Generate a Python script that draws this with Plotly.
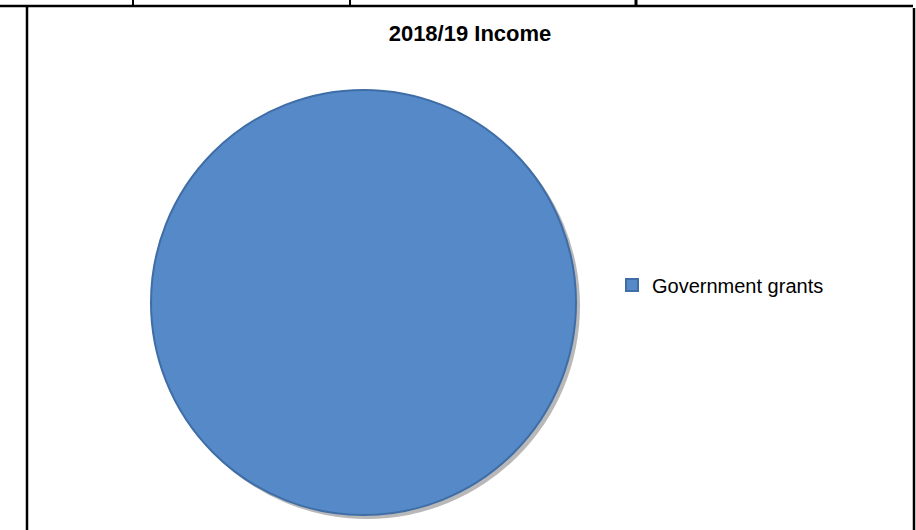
import plotly.graph_objects as go

W, H = 916, 530

labels = ["Government grants"]
values = [100]
colors = ["#5689C8"]
title_text = "2018/19 Income"

def px(x):
    return x / W

def py(y):
    return 1 - y / H

fig = go.Figure()

# soft shadow behind the pie
fig.add_trace(go.Pie(
    labels=labels, values=values, sort=False,
    marker=dict(colors=["rgba(0,0,0,0.28)"], line=dict(width=0)),
    textinfo="none", hoverinfo="skip", showlegend=False,
    domain=dict(x=[px(153), px(581)], y=[py(519), py(93)]),
))

fig.add_trace(go.Pie(
    labels=labels, values=values, sort=False,
    marker=dict(colors=colors, line=dict(color="#3F6DA6", width=2)),
    textinfo="none", hoverinfo="label+percent", showlegend=True,
    domain=dict(x=[px(150), px(577)], y=[py(515), py(90)]),
))

shapes = []
line_specs = [
    # (x0, y0, x1, y1, width)
    (0, 6, 913, 6, 2.5),
    (27, 6, 27, 530, 2.5),
    (914, 8, 914, 530, 2.5),
    (133, 0, 133, 6, 2),
    (350, 0, 350, 6, 2),
    (636, 0, 636, 6, 3),
]
for x0, y0, x1, y1, w in line_specs:
    shapes.append(dict(type="line", xref="paper", yref="paper",
                       x0=px(x0), y0=py(y0), x1=px(x1), y1=py(y1),
                       line=dict(color="black", width=w)))

fig.update_layout(
    width=W, height=H,
    margin=dict(l=0, r=0, t=0, b=0),
    paper_bgcolor="white", plot_bgcolor="white",
    font=dict(family="Liberation Sans, Arial, sans-serif", color="black"),
    title=dict(text="<b>" + title_text + "</b>", x=px(470), y=py(33),
               xanchor="center", yanchor="middle",
               font=dict(size=22, family="Liberation Sans, Arial, sans-serif", color="black")),
    legend=dict(x=px(612), y=py(285), xanchor="left", yanchor="middle",
                font=dict(size=20, color="black"),
                bgcolor="rgba(0,0,0,0)", itemwidth=30),
    shapes=shapes,
)

fig.write_html(
    "out.html",
    config={"displayModeBar": False},
    post_script="document.body.style.margin='0';document.body.style.padding='0';document.body.style.overflow='hidden';",
)
